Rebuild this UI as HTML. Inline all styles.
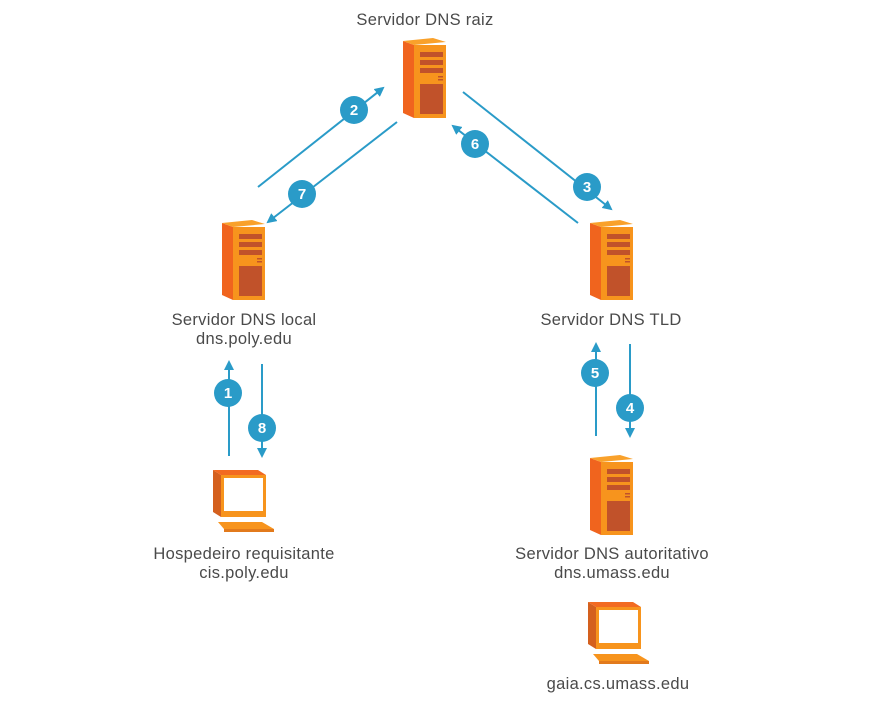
<!DOCTYPE html>
<html><head><meta charset="utf-8"><style>
html,body{margin:0;padding:0;background:#fff;}
svg{display:block;}
text{font-family:"Liberation Sans",sans-serif;font-size:16.5px;fill:#4a4a4a;text-anchor:middle;letter-spacing:0.3px;}
.n{fill:#fff;font-weight:bold;font-size:15px;letter-spacing:0;}
</style></head><body>
<svg width="880" height="709" viewBox="0 0 880 709" xmlns="http://www.w3.org/2000/svg">
<defs>
<marker id="a" markerWidth="10" markerHeight="10" refX="8" refY="5" orient="auto" markerUnits="userSpaceOnUse">
<path d="M0,0 L10,5 L0,10 Z" fill="#2a9bc8"/></marker>
<g id="srv">
<polygon points="0,3 11,7 11,80 0,75" fill="#f0641e"/>
<polygon points="0,3 30,0 43,4 11,7" fill="#f9a12b"/>
<rect x="11" y="7" width="32" height="73" fill="#f7941d"/>
<rect x="17" y="14" width="23" height="5" fill="#c1522a"/>
<rect x="17" y="22" width="23" height="5" fill="#c1522a"/>
<rect x="17" y="30" width="23" height="5" fill="#c1522a"/>
<rect x="35" y="38" width="5" height="1.5" fill="#c1522a"/>
<rect x="35" y="41" width="5" height="1.5" fill="#c1522a"/>
<rect x="17" y="46" width="23" height="30" fill="#c1522a"/>
</g>
<g id="pc">
<polygon points="0,0 8,5 8,47 0,42" fill="#d4601e"/>
<polygon points="0,0 45,0 53,5 8,5" fill="#f26a21"/>
<rect x="8" y="5" width="45" height="42" fill="#f7941d"/>
<rect x="11" y="8" width="39" height="33" fill="#fff"/>
<polygon points="5,52 49,52 61,59 11,59" fill="#f7941d"/>
<polygon points="11,59 61,59 61,62 11,62" fill="#e27a1c"/>
</g>
</defs>
<use href="#srv" x="403" y="38"/>
<use href="#srv" x="222" y="220"/>
<use href="#srv" x="590" y="220"/>
<use href="#srv" x="590" y="455"/>
<use href="#pc" x="213" y="470"/>
<use href="#pc" x="588" y="602"/>
<g stroke="#2a9bc8" stroke-width="2" fill="none">
<line x1="258" y1="187" x2="383" y2="88" marker-end="url(#a)"/>
<line x1="397" y1="122" x2="268" y2="222" marker-end="url(#a)"/>
<line x1="463" y1="92" x2="611" y2="209" marker-end="url(#a)"/>
<line x1="578" y1="223" x2="453" y2="126" marker-end="url(#a)"/>
<line x1="229" y1="456" x2="229" y2="362" marker-end="url(#a)"/>
<line x1="262" y1="364" x2="262" y2="456" marker-end="url(#a)"/>
<line x1="596" y1="436" x2="596" y2="344" marker-end="url(#a)"/>
<line x1="630" y1="344" x2="630" y2="436" marker-end="url(#a)"/>
</g>
<g fill="#2a9bc8">
<circle cx="354" cy="110" r="14"/><circle cx="302" cy="194" r="14"/>
<circle cx="587" cy="187" r="14"/><circle cx="475" cy="144" r="14"/>
<circle cx="228" cy="393" r="14"/><circle cx="262" cy="428" r="14"/>
<circle cx="595" cy="373" r="14"/><circle cx="630" cy="408" r="14"/>
</g>
<text class="n" x="354" y="115">2</text><text class="n" x="302" y="199">7</text>
<text class="n" x="587" y="192">3</text><text class="n" x="475" y="149">6</text>
<text class="n" x="228" y="398">1</text><text class="n" x="262" y="433">8</text>
<text class="n" x="595" y="378">5</text><text class="n" x="630" y="413">4</text>
<text x="425" y="25">Servidor DNS raiz</text>
<text x="244" y="325">Servidor DNS local</text>
<text x="244" y="344">dns.poly.edu</text>
<text x="611" y="325">Servidor DNS TLD</text>
<text x="244" y="559">Hospedeiro requisitante</text>
<text x="244" y="578">cis.poly.edu</text>
<text x="612" y="559">Servidor DNS autoritativo</text>
<text x="612" y="578">dns.umass.edu</text>
<text x="618" y="689">gaia.cs.umass.edu</text>
</svg>
</body></html>
